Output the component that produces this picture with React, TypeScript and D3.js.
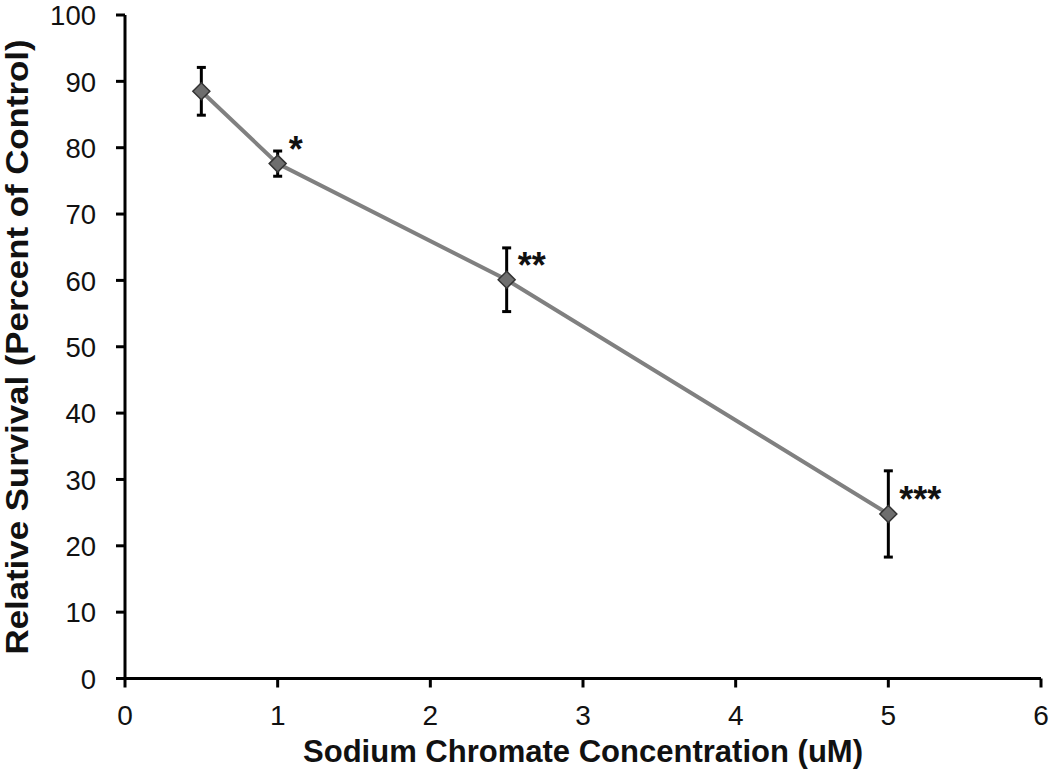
import React from "react";
import * as d3 from "d3";

const concentrations = [0.5, 1, 2.5, 5];
const survival = [88.5, 77.6, 60.1, 24.8];
const errors = [3.6, 1.9, 4.8, 6.5];
const significance = ["", "*", "**", "***"];
const xTicks = [0, 1, 2, 3, 4, 5, 6];
const yTicks = [0, 10, 20, 30, 40, 50, 60, 70, 80, 90, 100];
const xTitle = "Sodium Chromate Concentration (uM)";
const yTitle = "Relative Survival (Percent of Control)";

export default function App() {
  const W = 1050, H = 772;
  const x = d3.scaleLinear().domain([0, 6]).range([125, 1041]);
  const y = d3.scaleLinear().domain([0, 100]).range([678.5, 15]);
  const line = d3.line<number>().x((d, i) => x(concentrations[i])).y((d) => y(d));
  const font = "Liberation Sans, Arial, sans-serif";
  return (
    <svg width={W} height={H} style={{ position: "absolute", left: 0, top: 0 }}>
      <rect width={W} height={H} fill="#fff" />
      {/* y axis */}
      <line x1={x(0)} x2={x(0)} y1={y(0)} y2={y(100)} stroke="#000" strokeWidth={3} />
      {yTicks.map((t) => (
        <g key={t}>
          <line x1={x(0) - 9} x2={x(0)} y1={y(t)} y2={y(t)} stroke="#000" strokeWidth={3} />
          <text x={96} y={y(t)} dy="0.37em" textAnchor="end" fontFamily={font} fontSize={27.5} fill="#111">{t}</text>
        </g>
      ))}
      {/* x axis */}
      <line x1={x(0) - 9} x2={x(6)} y1={y(0)} y2={y(0)} stroke="#000" strokeWidth={3} />
      {xTicks.map((t) => (
        <g key={t}>
          <line x1={x(t)} x2={x(t)} y1={y(0)} y2={y(0) + 9} stroke="#000" strokeWidth={3} />
          <text x={x(t)} y={725} textAnchor="middle" fontFamily={font} fontSize={28} fill="#111">{t}</text>
        </g>
      ))}
      <text x={583} y={762} textAnchor="middle" fontFamily={font} fontSize={31} fontWeight="bold" fill="#111" textLength={560} lengthAdjust="spacingAndGlyphs">{xTitle}</text>
      <text transform={`translate(28,347) rotate(-90)`} textAnchor="middle" fontFamily={font} fontSize={32} fontWeight="bold" fill="#111" textLength={615} lengthAdjust="spacingAndGlyphs">{yTitle}</text>
      {/* line */}
      <path d={line(survival) || ""} fill="none" stroke="#808080" strokeWidth={4} />
      {/* error bars */}
      {survival.map((v, i) => {
        const cx = x(concentrations[i]);
        return (
          <g key={i} stroke="#000" strokeWidth={3}>
            <line x1={cx} x2={cx} y1={y(v - errors[i])} y2={y(v + errors[i])} />
            <line x1={cx - 4.5} x2={cx + 4.5} y1={y(v - errors[i])} y2={y(v - errors[i])} />
            <line x1={cx - 4.5} x2={cx + 4.5} y1={y(v + errors[i])} y2={y(v + errors[i])} />
          </g>
        );
      })}
      {/* markers */}
      {survival.map((v, i) => {
        const cx = x(concentrations[i]);
        const cy = y(v);
        const s = 8.5;
        return (
          <path key={i} d={`M${cx},${cy - s}L${cx + s},${cy}L${cx},${cy + s}L${cx - s},${cy}Z`} fill="#6e6e6e" stroke="#333" strokeWidth={1.5} />
        );
      })}
      {/* significance */}
      {survival.map((v, i) => (
        <text key={i} x={x(concentrations[i]) + 11} y={y(v) - 2} fontFamily={font} fontSize={36} fontWeight="bold" fill="#111">{significance[i]}</text>
      ))}
    </svg>
  );
}
